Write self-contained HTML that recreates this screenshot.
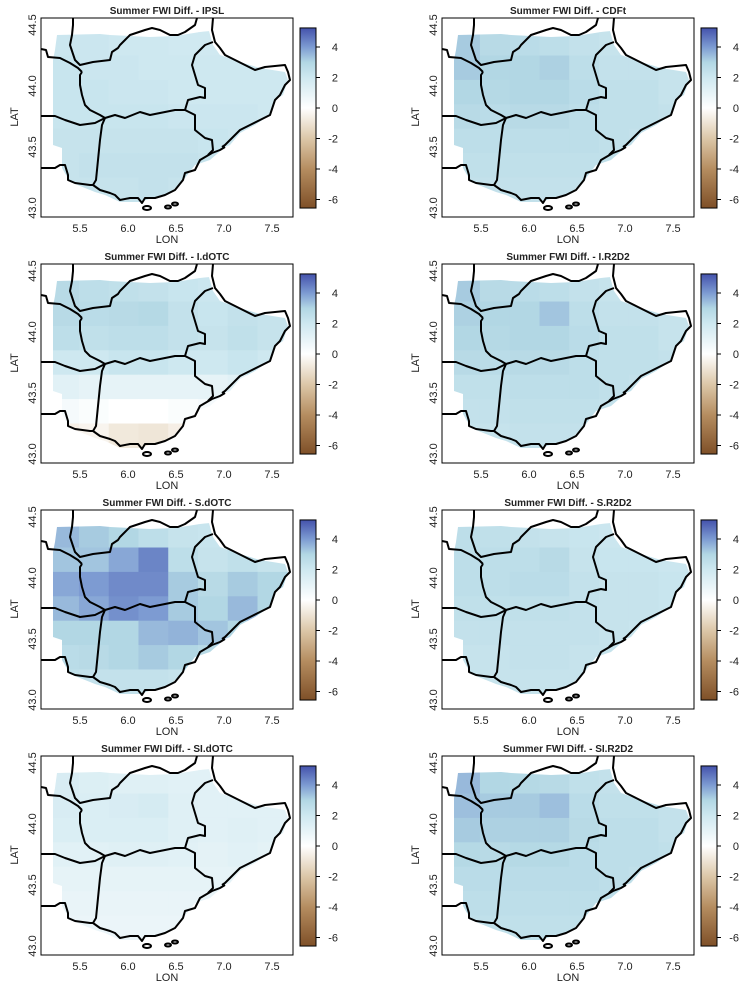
<!DOCTYPE html>
<html><head><meta charset="utf-8"><style>
body{margin:0;background:#fff;width:754px;height:985px;overflow:hidden;font-family:"Liberation Sans",sans-serif}
svg text{font-family:"Liberation Sans",sans-serif}
</style></head><body>
<svg id="fig" width="754" height="985" xmlns="http://www.w3.org/2000/svg">
<defs>
<linearGradient id="cb" x1="0" y1="1" x2="0" y2="0"></linearGradient>
</defs>
</svg>
<script>
const titles=["IPSL","CDFt","I.dOTC","I.R2D2","S.dOTC","S.R2D2","SI.dOTC","SI.R2D2"];
const lonTicks=[5.5,6.0,6.5,7.0,7.5];
const latTicks=[44.5,44.0,43.5,43.0];
const cbTicks=[4,2,0,-2,-4,-6];
const gridLons=[5.2,5.51,5.82,6.13,6.44,6.75,7.06,7.37];
const gridLats=[44.45,44.25,44.05,43.85,43.65,43.45,43.25];
const vIPSL=[2.1,2.1,2.0,2.0,1.9,1.9,2.0,2.0, 2.2,2.1,2.1,2.0,2.0,2.0,2.0,2.0, 2.2,2.2,2.1,2.1,2.0,2.0,2.0,2.0, 2.2,2.2,2.2,2.2,2.1,2.1,2.1,2.0, 2.3,2.3,2.3,2.3,2.3,2.2,2.1,2.1, 2.3,2.4,2.4,2.4,2.4,2.3,2.2,2.2, 2.3,2.3,2.3,2.4,2.3,2.3,2.2,2.2];
const vCDFt=[3.2,2.8,2.7,2.6,2.4,2.3,2.3,2.3, 3.2,3.0,3.0,3.1,2.6,2.4,2.4,2.3, 3.0,2.9,3.0,3.0,2.7,2.5,2.5,2.3, 2.8,2.7,2.8,2.8,2.6,2.5,2.5,2.4, 2.6,2.6,2.6,2.6,2.6,2.5,2.4,2.3, 2.5,2.5,2.5,2.5,2.5,2.5,2.4,2.3, 2.4,2.4,2.4,2.4,2.4,2.4,2.3,2.3];
const vIdOTC=[2.8,2.6,2.5,2.4,2.2,2.1,2.1,2.1, 2.8,2.7,2.8,2.9,2.4,2.2,2.4,2.3, 2.6,2.5,2.6,2.6,2.4,2.3,2.5,2.3, 2.0,2.0,2.2,2.2,2.0,2.0,2.2,2.0, 1.2,1.0,1.0,1.0,1.0,1.0,1.2,1.2, 0.4,0.2,0.0,0.0,0.2,0.4,0.6,0.6, -0.6,-0.4,-0.8,-0.9,-0.6,0.2,0.4,0.4];
const vIR2D2=[3.2,2.8,2.7,2.6,2.4,2.3,2.3,2.3, 3.1,3.0,3.0,3.3,2.6,2.4,2.4,2.3, 3.0,2.9,3.0,3.0,2.7,2.5,2.5,2.3, 2.8,2.7,2.8,2.8,2.6,2.5,2.5,2.4, 2.5,2.5,2.6,2.6,2.6,2.5,2.4,2.3, 2.4,2.4,2.5,2.5,2.5,2.4,2.4,2.3, 2.3,2.3,2.4,2.4,2.4,2.4,2.3,2.3];
const vSdOTC=[3.5,3.2,3.0,2.6,2.3,2.2,2.0,2.0, 3.3,3.3,3.8,4.4,2.6,2.3,2.5,2.3, 3.8,4.0,4.3,4.3,3.2,2.8,3.2,3.0, 3.5,3.8,4.2,4.0,3.2,3.0,3.5,3.0, 3.0,3.0,3.0,3.5,3.6,3.3,3.0,2.5, 2.7,2.8,3.0,3.2,3.0,2.8,2.5,2.5, 2.5,2.4,2.4,2.4,2.3,2.3,2.3,2.3];
const vSR2D2=[2.6,2.5,2.4,2.3,2.2,2.1,2.1,2.1, 2.6,2.6,2.6,2.8,2.3,2.2,2.2,2.1, 2.6,2.6,2.7,2.7,2.4,2.3,2.3,2.2, 2.5,2.5,2.5,2.5,2.4,2.3,2.3,2.2, 2.4,2.4,2.4,2.4,2.4,2.3,2.2,2.2, 2.3,2.3,2.4,2.4,2.3,2.3,2.2,2.2, 2.3,2.3,2.3,2.3,2.3,2.3,2.2,2.2];
const vSIdOTC=[1.6,1.4,1.3,1.3,1.2,1.2,1.2,1.2, 1.6,1.5,1.6,1.7,1.3,1.2,1.2,1.2, 1.5,1.5,1.5,1.5,1.3,1.2,1.3,1.2, 1.2,1.2,1.3,1.3,1.2,1.1,1.2,1.1, 1.0,1.0,1.0,1.0,1.0,1.0,1.0,1.0, 0.9,0.9,0.9,0.9,0.9,0.9,0.9,0.9, 0.8,0.8,0.8,0.8,0.8,0.8,0.8,0.8];
const vSIR2D2=[3.5,3.0,2.9,2.8,2.5,2.4,2.4,2.4, 3.4,3.2,3.2,3.4,2.7,2.5,2.5,2.4, 3.2,3.1,3.1,3.1,2.8,2.6,2.6,2.4, 2.9,2.8,2.9,2.9,2.7,2.6,2.6,2.5, 2.7,2.7,2.7,2.7,2.7,2.6,2.5,2.4, 2.6,2.6,2.6,2.6,2.6,2.6,2.5,2.4, 2.5,2.5,2.5,2.5,2.5,2.5,2.4,2.4];
const panelValues=[vIPSL,vCDFt,vIdOTC,vIR2D2,vSdOTC,vSR2D2,vSIdOTC,vSIR2D2];

const NS="http://www.w3.org/2000/svg";
const fig=document.getElementById('fig');
function mk(tag,attrs,parent){const e=document.createElementNS(NS,tag);for(const k in attrs)e.setAttribute(k,attrs[k]);(parent||fig).appendChild(e);return e;}
const xs=lon=>80+(lon-5.5)*96;
const ys=lat=>86-(lat-44)*122;
const cbY=v=>108-v*15.25;
const stops=[[-6.6,[127,80,40]],[-4,[181,141,96]],[-2,[220,199,168]],[0,[255,255,255]],[1,[230,243,247]],[2,[206,232,240]],[3,[178,215,228]],[4,[125,155,210]],[5.3,[68,82,172]]];
function col(v){if(v<=stops[0][0])return 'rgb('+stops[0][1]+')';for(let i=1;i<stops.length;i++){if(v<=stops[i][0]){const a=stops[i-1],b=stops[i],t=(v-a[0])/(b[0]-a[0]);return 'rgb('+a[1].map((c,j)=>Math.round(c+(b[1][j]-c)*t)).join(',')+')';}}return 'rgb('+stops[stops.length-1][1]+')';}
const g=document.getElementById('cb');
stops.forEach(s=>{const off=(s[0]-(-6.56))/(5.25+6.56);mk('stop',{offset:Math.max(0,Math.min(1,off)),'stop-color':'rgb('+s[1]+')'},g);});
const fillPoly="57,35 100,34 110,35 150,37 175,36 200,32 209,31 213,45 220,55 240,62 260,68 285,72 288,80 283,95 275,100 270,115 255,125 240,133 230,145 225,147 210,160 195,165 185,178 170,193 155,197 140,202 120,202 105,195 95,192 70,182 62,168 62,148 53,145 53,60 55,50";
mk('clipPath',{id:'reg'},fig.querySelector('defs')).appendChild(document.createElementNS(NS,'polygon')).setAttribute('points',fillPoly);
const borders=[
"41,49 46,50 48,57 60,58 70,63 78,68 82,72",
"73,18 73,25 72,35 70,45 75,60 80,65 93,62 110,60 112,52 118,48 120,45 125,40 130,35 145,30 152,28 160,30 170,35 178,35 185,32 195,25 197,18",
"213,18 212,30 215,42 220,48 225,55 235,60 245,65 255,70 265,67 285,65 288,72 290,80 285,85 280,95 275,100 270,115 260,120 250,125 240,130 235,135 225,145 222,147",
"82,72 80,75 80,85 82,95 85,105 90,110 100,115 105,118 115,115 125,118 140,112 150,115 165,112 175,110 185,110 188,100 200,97 205,98 205,88 198,85 195,75 192,65 195,55 205,45 213,42",
"105,118 102,125 100,140 98,160 96,180 93,185",
"185,110 195,115 195,130 205,138 212,140 213,150 208,155",
"41,116 55,116 65,120 80,125 95,123 105,118",
"41,168 55,168 60,165 65,165 68,175 68,180 75,183 90,185 93,185",
"93,185 100,190 110,193 115,195 120,200 130,198 138,198 142,203 145,198 155,198 165,195 175,190 183,180 185,173 195,170 200,160 212,153 220,150 225,147"];
titles.forEach((t,i)=>{
  const ox=(i%2)*401, oy=Math.floor(i/2)*246;
  const p=mk('g',{transform:`translate(${ox},${oy})`});
  
  
  const tt=mk('text',{x:167,y:14,'text-anchor':'middle','font-size':'10','font-weight':'bold',fill:'#222'},p);tt.textContent='Summer FWI Diff. - '+t;
  
  const mapG=mk('g',{'clip-path':'url(#reg)'},p);
  
  const vals=panelValues[i];
  gridLats.forEach((la,r)=>gridLons.forEach((lo,c)=>{
    const x0=xs(lo)-2,x1=xs(lo+0.31)-2,y0=ys(la),y1=ys(la-0.2);
    const rc=mk('rect',{x:x0,y:y0,width:x1-x0+0.6,height:y1-y0+0.6,fill:col(vals[r*8+c])},mapG);
    
  }));
  const bg=mk('g',{fill:'none',stroke:'#000','stroke-width':'2','stroke-linejoin':'round'},p);
  
  borders.forEach(b=>mk('polyline',{points:b},bg));
  [[147,208,4,2],[168,207,3,1.5],[175,204,3,1.5]].forEach(e=>mk('ellipse',{cx:e[0],cy:e[1],rx:e[2],ry:e[3],fill:'#fff',stroke:'#000','stroke-width':'2'},p));
  const box=mk('rect',{x:41,y:18,width:252,height:199,fill:'none',stroke:'#000','stroke-width':'1'},p);
  
  lonTicks.forEach(l=>{const tx=mk('text',{x:xs(l),y:232,'text-anchor':'middle','font-size':'11',fill:'#222'},p);tx.textContent=l.toFixed(1);});
  latTicks.forEach(l=>{const tx=mk('text',{x:0,y:0,'text-anchor':'middle','font-size':'11',fill:'#222',transform:`translate(36,${ys(l)}) rotate(-90)`},p);tx.textContent=l.toFixed(1);});
  const xl=mk('text',{x:167,y:243,'text-anchor':'middle','font-size':'11',fill:'#222'},p);xl.textContent='LON';
  const yl=mk('text',{x:0,y:0,'text-anchor':'middle','font-size':'11',fill:'#222',transform:'translate(18,117) rotate(-90)'},p);yl.textContent='LAT';
  const cbr=mk('rect',{x:300,y:cbY(5.25),width:16,height:cbY(-6.56)-cbY(5.25),fill:'url(#cb)',stroke:'#000','stroke-width':'1'},p);
  
  cbTicks.forEach(v=>{mk('line',{x1:316,x2:320,y1:cbY(v),y2:cbY(v),stroke:'#000'},p);const tx=mk('text',{x:338,y:cbY(v)+4,'text-anchor':'end','font-size':'11',fill:'#222'},p);tx.textContent=v;});
});
</script>
</body></html>
